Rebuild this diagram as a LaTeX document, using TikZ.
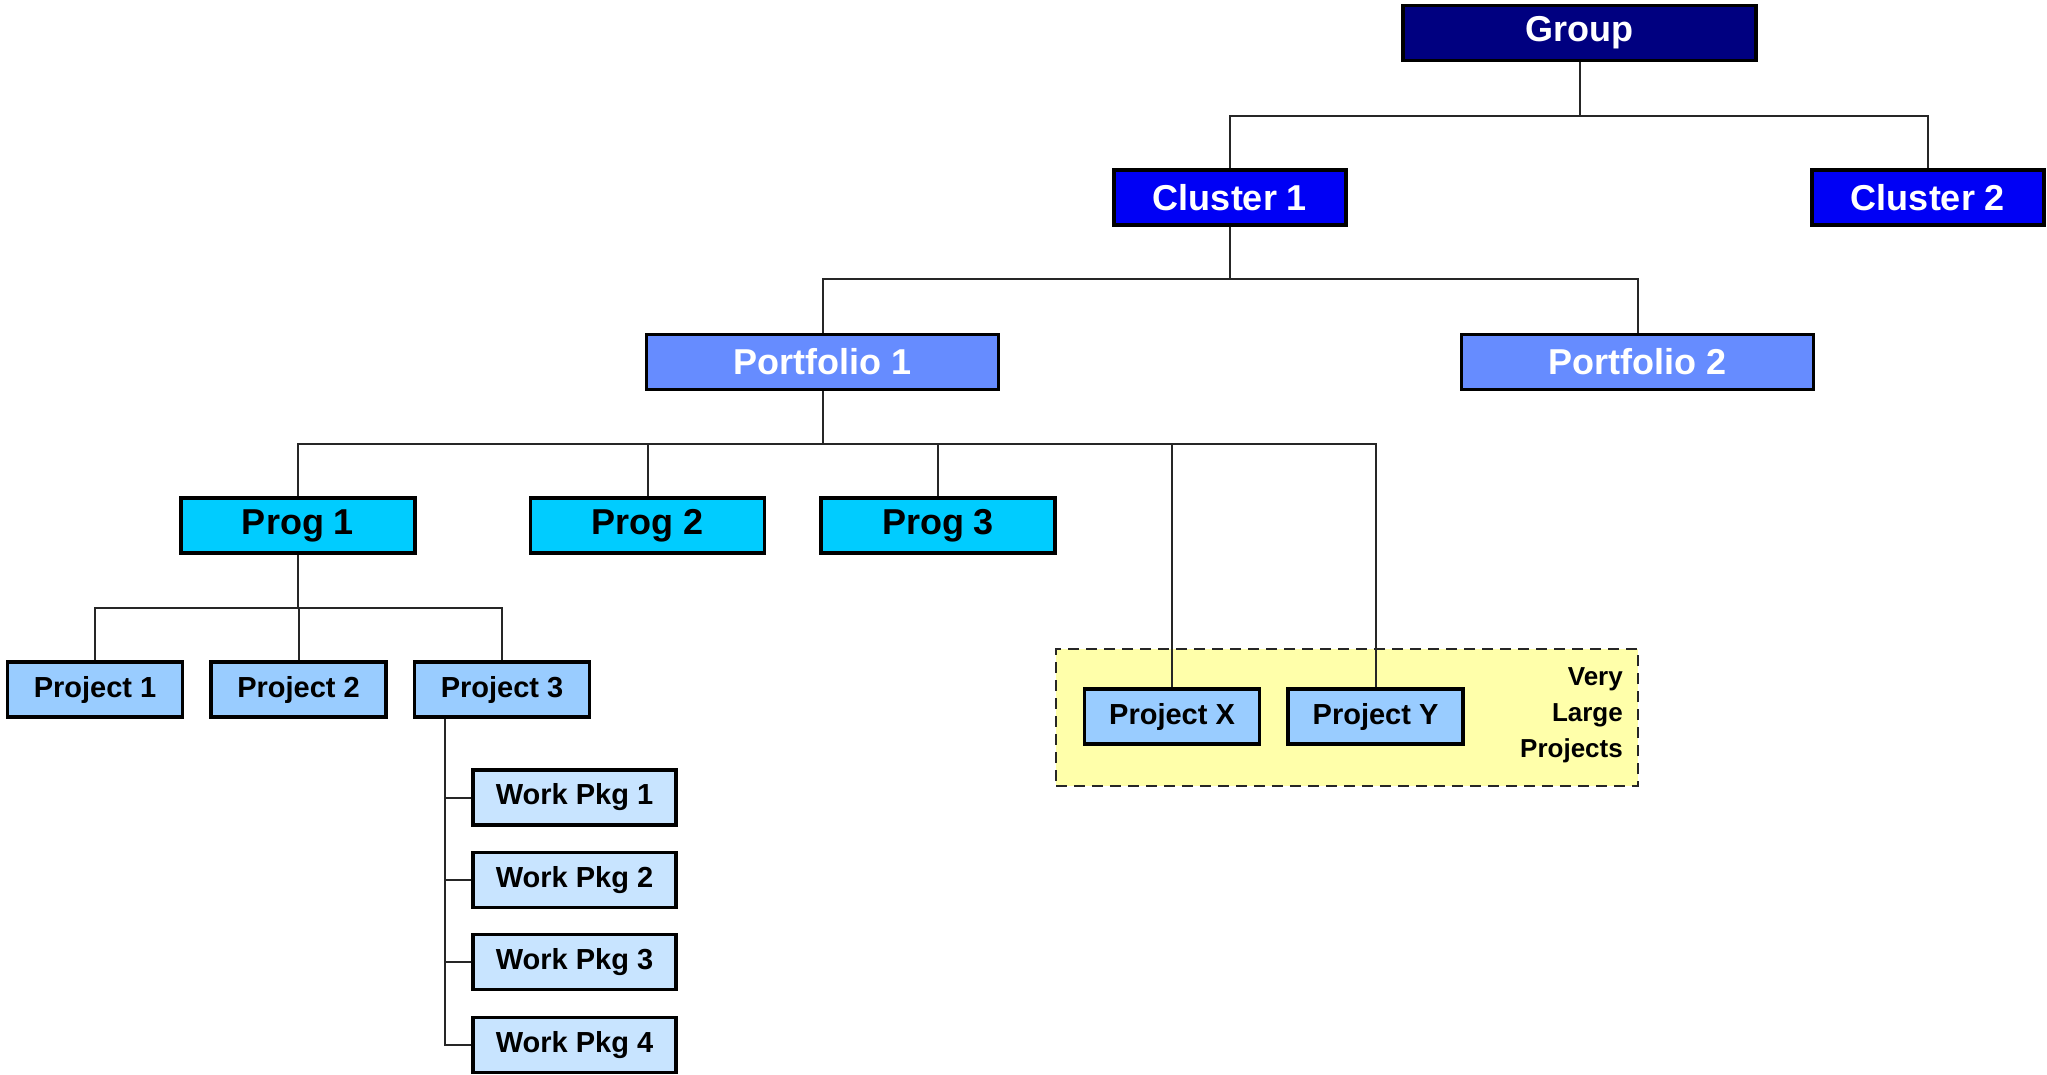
\documentclass[tikz,border=0pt]{standalone}
\usepackage{fontspec}
\setmainfont{Liberation Sans}
\definecolor{cgroup}{RGB}{0,0,128}
\definecolor{ccluster}{RGB}{0,0,245}
\definecolor{cport}{RGB}{102,140,255}
\definecolor{cprog}{RGB}{0,204,255}
\definecolor{cproj}{RGB}{153,204,255}
\definecolor{cwp}{RGB}{200,228,255}
\definecolor{cvl}{RGB}{255,255,170}
\tikzset{
  box/.style={draw=black, line width=3.5pt, inner sep=0pt, minimum height=55pt,
    font=\bfseries\fontsize{36}{40}\selectfont},
  grpbox/.style={box, fill=cgroup, text=white, minimum width=353pt},
  clbox/.style={box, fill=ccluster, text=white, minimum width=232pt},
  pfbox/.style={box, fill=cport, text=white, minimum width=352pt},
  pgbox/.style={box, fill=cprog, text=black, minimum width=234pt},
  prbox/.style={box, fill=cproj, text=black, minimum width=175pt,
    font=\bfseries\fontsize{29}{32}\selectfont},
  wpbox/.style={box, fill=cwp, text=black, minimum width=203pt,
    font=\bfseries\fontsize{29}{32}\selectfont},
  conn/.style={line width=2pt, draw=black!85},
}
\begin{document}
\begin{tikzpicture}[x=1pt, y=-1pt]
\useasboundingbox (0,0) rectangle (2047,1075);
\fill[white] (0,0) rectangle (2047,1075);
% dashed region
\node (vlbox) [draw=black!85, line width=2pt, dash pattern=on 11pt off 7pt, fill=cvl,
  minimum width=582pt, minimum height=137pt, inner sep=0pt] at (1347,717.5) {};
\node (vlp) [anchor=east, align=right, inner sep=0pt,
  font=\bfseries\fontsize{26}{36}\selectfont] at (1623,715) {Very\\Large\\Projects};
% bus coordinates
\coordinate (bus1) at (0,116);
\coordinate (bus2) at (0,279);
\coordinate (bus3) at (0,444);
\coordinate (bus4) at (0,608);
\coordinate (wpbus) at (445,0);
% nodes
\node (group) [grpbox] at (1579.5,33) {Group};
\node (c1) [clbox] at (1230,197.5) {Cluster 1};
\node (c2) [clbox] at (1928,197.5) {Cluster 2};
\node (p1) [pfbox] at (822.5,362) {Portfolio 1};
\node (p2) [pfbox] at (1637.5,362) {Portfolio 2};
\node (prog1) [pgbox] at (298,525.5) {Prog 1};
\node (prog2) [pgbox] at (647.5,525.5) {Prog 2};
\node (prog3) [pgbox] at (938,525.5) {Prog 3};
\node (pr1) [prbox] at (95,689.5) {Project 1};
\node (pr2) [prbox] at (298.5,689.5) {Project 2};
\node (pr3) [prbox] at (502,689.5) {Project 3};
\node (px) [prbox] at (1172,716.5) {Project X};
\node (py) [prbox] at (1375.5,716.5) {Project Y};
\node (wp1) [wpbox] at (574.5,797.5) {Work Pkg 1};
\node (wp2) [wpbox] at (574.5,880) {Work Pkg 2};
\node (wp3) [wpbox] at (574.5,962) {Work Pkg 3};
\node (wp4) [wpbox] at (574.5,1045) {Work Pkg 4};
% connectors
\draw[conn] (group.south) -- (group.south |- bus1);
\draw[conn] (c1.north) |- (bus1 -| c2.north) -- (c2.north);
\draw[conn] (c1.south) -- (c1.south |- bus2);
\draw[conn] (p1.north) |- (bus2 -| p2.north) -- (p2.north);
\draw[conn] (p1.south) -- (p1.south |- bus3);
\draw[conn] (prog1.north) |- (bus3 -| py.north) -- (py.north);
\draw[conn] (prog2.north) -- (prog2.north |- bus3);
\draw[conn] (prog3.north) -- (prog3.north |- bus3);
\draw[conn] (px.north) -- (px.north |- bus3);
\draw[conn] (prog1.south) -- (prog1.south |- bus4);
\draw[conn] (pr1.north) |- (bus4 -| pr3.north) -- (pr3.north);
\draw[conn] (pr2.north) -- (pr2.north |- bus4);
\draw[conn] (pr3.south -| wpbus) |- (wp4.west);
\draw[conn] (wp1.west -| wpbus) -- (wp1.west);
\draw[conn] (wp2.west -| wpbus) -- (wp2.west);
\draw[conn] (wp3.west -| wpbus) -- (wp3.west);
\end{tikzpicture}
\end{document}
